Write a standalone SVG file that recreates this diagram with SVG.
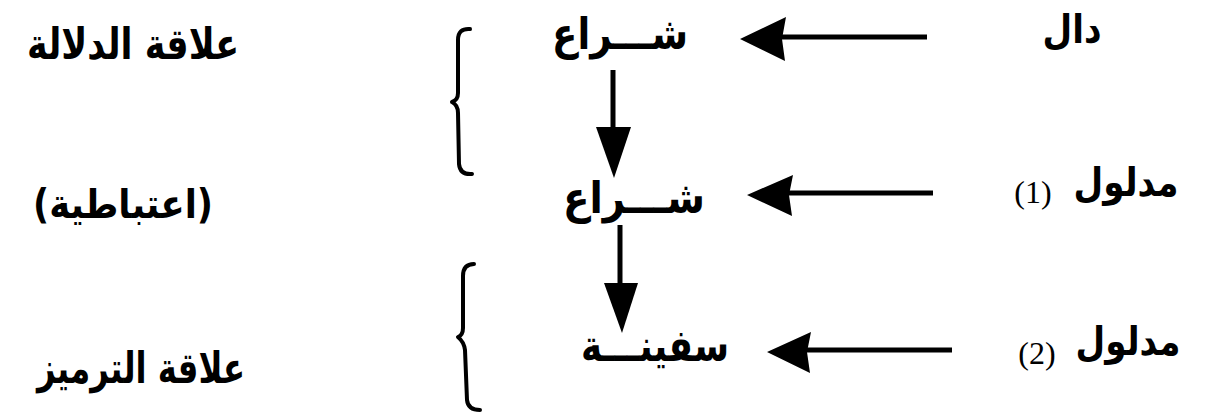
<svg xmlns="http://www.w3.org/2000/svg" width="1210" height="412" viewBox="0 0 1210 412">
<style>
.ar{font-family:"DejaVu Sans",sans-serif;font-weight:bold;fill:#000;text-anchor:middle}
.num{font-family:"Liberation Serif",serif;fill:#000;text-anchor:middle}
.ln{stroke:#000;stroke-width:5;fill:none;stroke-linecap:butt}
.hd{fill:#000;stroke:none}
.br{stroke:#000;stroke-width:4;fill:none;stroke-linecap:round;stroke-linejoin:round}
</style>
<rect width="1210" height="412" fill="#fff"/>
<g id="label-dalala"><text class="ar" x="133" y="59" font-size="43" textLength="212" lengthAdjust="spacingAndGlyphs">علاقة الدلالة</text></g>
<g id="label-itibatiya"><text class="ar" x="123" y="218" font-size="40" textLength="180" lengthAdjust="spacingAndGlyphs">(اعتباطية)</text></g>
<g id="label-tarmiz"><text class="ar" x="141" y="383" font-size="43" textLength="208" lengthAdjust="spacingAndGlyphs">علاقة الترميز</text></g>
<g id="node-shira1"><text class="ar" x="620" y="49" font-size="44" textLength="136" lengthAdjust="spacingAndGlyphs">شـــراع</text></g>
<g id="node-shira2"><text class="ar" x="634" y="213" font-size="44" textLength="142" lengthAdjust="spacingAndGlyphs">شـــراع</text></g>
<g id="node-safina"><text class="ar" x="655" y="361" font-size="44" textLength="148" lengthAdjust="spacingAndGlyphs">سفينـــة</text></g>
<g id="label-dal"><text class="ar" x="1072" y="43" font-size="40" textLength="59" lengthAdjust="spacingAndGlyphs">دال</text></g>
<g id="label-madlul1"><text class="ar" x="1126" y="196" font-size="40" textLength="105" lengthAdjust="spacingAndGlyphs">مدلول</text><text class="num" x="1033" y="203" font-size="32">(1)</text></g>
<g id="label-madlul2"><text class="ar" x="1128" y="355" font-size="40" textLength="105" lengthAdjust="spacingAndGlyphs">مدلول</text><text class="num" x="1037" y="364" font-size="32">(2)</text></g>
<g id="brackets">
<path class="br" d="M470,29 Q458,28 458,40 L458,93 Q458,100 452,102 Q458,105 458,113 L459,164 Q460,175 472,174"/>
<path class="br" d="M474,264 Q463,264 463,276 L463,328 Q463,335 458,337 Q464,342 465,350 L467,400 Q468,410 480,410"/>
</g>
<g id="connectors">
<line class="ln" x1="927" y1="37" x2="780" y2="37"/>
<polygon class="hd" points="740,39 786,17 782,39 785,61"/>
<line class="ln" x1="933" y1="193" x2="788" y2="193"/>
<polygon class="hd" points="747,195 793,175 789,195 792,216"/>
<line class="ln" x1="952" y1="350" x2="806" y2="350"/>
<polygon class="hd" points="767,352 811,332 807,352 810,373"/>
<line class="ln" x1="613" y1="70" x2="613" y2="130"/>
<polygon class="hd" points="596,127 631,127 614,178"/>
<line class="ln" x1="620" y1="225" x2="620" y2="286"/>
<polygon class="hd" points="604,283 638,283 622,333"/>
</g>
</svg>
